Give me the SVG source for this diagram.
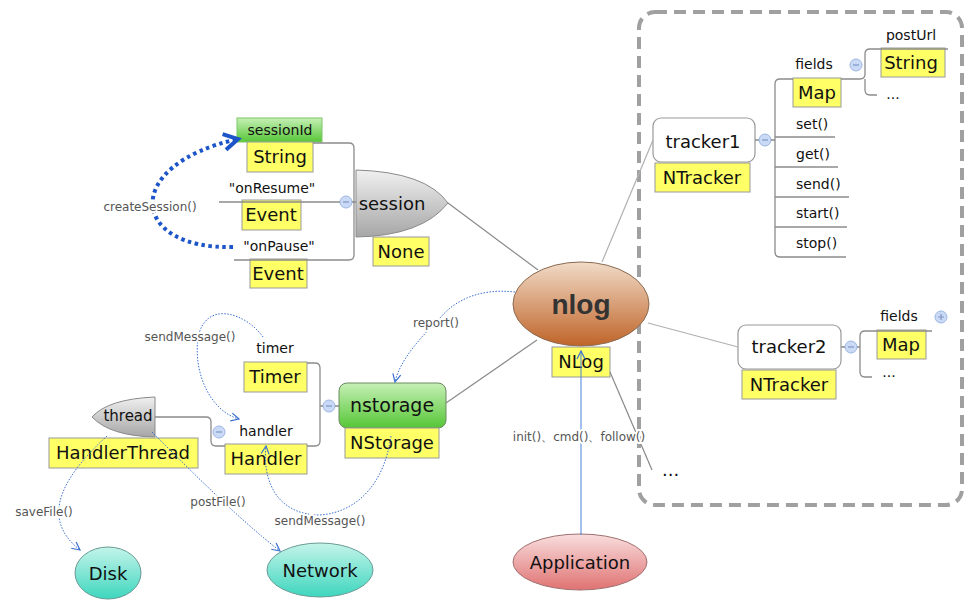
<svg xmlns="http://www.w3.org/2000/svg" width="978" height="602" viewBox="0 0 978 602">
<defs>
<linearGradient id="gNlog" x1="0" y1="0" x2="0" y2="1"><stop offset="0" stop-color="#f1dbc8"/><stop offset="1" stop-color="#bf6428"/></linearGradient>
<linearGradient id="gApp" x1="0" y1="0" x2="0" y2="1"><stop offset="0" stop-color="#f9dede"/><stop offset="1" stop-color="#e07272"/></linearGradient>
<linearGradient id="gTeal" x1="0" y1="0" x2="0" y2="1"><stop offset="0" stop-color="#c4f4ea"/><stop offset="1" stop-color="#3ed6be"/></linearGradient>
<linearGradient id="gGreen" x1="0" y1="0" x2="0" y2="1"><stop offset="0" stop-color="#c6f0b6"/><stop offset="1" stop-color="#56c636"/></linearGradient>
<linearGradient id="gGray" x1="0" y1="0" x2="0" y2="1"><stop offset="0" stop-color="#f0f0f0"/><stop offset="1" stop-color="#a6a6a6"/></linearGradient>
<marker id="arr" markerUnits="userSpaceOnUse" markerWidth="12" markerHeight="12" refX="9" refY="5" orient="auto" viewBox="0 0 12 10">
<path d="M1,1 L9,5 L1,9" fill="none" stroke="#3a70d0" stroke-width="1.2"/></marker>
<marker id="arrBig" markerUnits="userSpaceOnUse" markerWidth="24" markerHeight="24" refX="18" refY="10" orient="auto" viewBox="0 0 24 20">
<path d="M4,2 L18,10 L4,18" fill="none" stroke="#1c55c8" stroke-width="4"/></marker>
<style>
text{font-family:"DejaVu Sans","Liberation Sans",sans-serif;fill:#111}
.yb{fill:#ffff66;stroke:#999;stroke-width:1}
.yt{font-size:18px;text-anchor:middle}
.sm{font-size:14px;text-anchor:middle}
.lbl{font-size:12px;fill:#555;text-anchor:middle;stroke:#fff;stroke-width:4;paint-order:stroke;stroke-linejoin:round}
.br{fill:none;stroke:#8c8c8c;stroke-width:1.3}
.ln{fill:none;stroke:#8a8a8a;stroke-width:1.2}
.lnl{fill:none;stroke:#b0b0b0;stroke-width:1.2}
.dot{fill:none;stroke:#3a70d0;stroke-width:1;stroke-dasharray:1.5 1.5}
.col{fill:#c9d9f6;stroke:#9cb6e2;stroke-width:1}
.cm{stroke:#7f96c4;stroke-width:1.2}
</style>
</defs>
<rect width="978" height="602" fill="#fff"/>

<rect id="group-frame" x="639" y="12" width="323" height="493" rx="16" fill="none" stroke="#a0a0a0" stroke-width="4" stroke-dasharray="12 7"/>

<g id="nlog">
<ellipse cx="581" cy="304" rx="68" ry="42" fill="url(#gNlog)" stroke="#8a6a50" stroke-width="1"/>
<text x="581" y="314" text-anchor="middle" style="font-family:'Liberation Sans',Arial,sans-serif;font-weight:bold;font-size:28px;fill:#333">nlog</text>
<rect class="yb" x="552" y="347" width="58" height="30"/>
<text class="yt" x="581" y="368">NLog</text>
</g>

<g id="session">
<path d="M356 170 Q426 172 448 203 Q422 236 356 237 Z" fill="url(#gGray)" stroke="#8a8a8a" stroke-width="1"/>
<text x="392" y="210" style="font-size:18px;text-anchor:middle">session</text>
<rect class="yb" x="373" y="237" width="56" height="29"/>
<text class="yt" x="401" y="258">None</text>
<circle class="col" cx="346" cy="202" r="6"/><path class="cm" d="M343 202 L349 202"/>
</g>

<g id="sessionId">
<rect x="237" y="118" width="85" height="24" fill="url(#gGreen)" stroke="#7cc868" stroke-width="1"/>
<text x="280" y="135" style="font-size:14px;text-anchor:middle">sessionId</text>
<rect class="yb" x="247" y="142" width="66" height="30"/>
<text class="yt" x="280" y="163">String</text>
</g>

<g id="onResume">
<text class="sm" x="272" y="193">"onResume"</text>
<rect class="yb" x="242" y="200" width="59" height="30"/>
<text class="yt" x="271" y="221">Event</text>
</g>

<g id="onPause">
<text class="sm" x="279" y="251">"onPause"</text>
<rect class="yb" x="250" y="259" width="57" height="29"/>
<text class="yt" x="278" y="280">Event</text>
</g>

<g id="nstorage">
<rect x="339" y="383" width="107" height="45" rx="8" fill="url(#gGreen)" stroke="#6a8a60" stroke-width="1"/>
<text x="392" y="412" style="font-size:19px;text-anchor:middle">nstorage</text>
<rect class="yb" x="345" y="428" width="94" height="30"/>
<text class="yt" x="392" y="449">NStorage</text>
<circle class="col" cx="329" cy="406" r="6"/><path class="cm" d="M326 406 L332 406"/>
</g>

<g id="timer">
<text class="sm" x="275" y="353">timer</text>
<rect class="yb" x="244" y="362" width="63" height="30"/>
<text class="yt" x="275" y="383">Timer</text>
</g>

<g id="handler">
<text class="sm" x="266" y="436">handler</text>
<rect class="yb" x="225" y="444" width="82" height="30"/>
<text class="yt" x="266" y="465">Handler</text>
<circle class="col" cx="219" cy="432" r="6"/><path class="cm" d="M216 432 L222 432"/>
</g>

<g id="thread">
<path d="M155 397 Q108 399 92 417 Q110 436 155 437 Z" fill="url(#gGray)" stroke="#8a8a8a" stroke-width="1"/>
<text x="128" y="421" style="font-size:15px;text-anchor:middle">thread</text>
<rect class="yb" x="49" y="438" width="149" height="30"/>
<text class="yt" x="123" y="459">HandlerThread</text>
</g>

<g id="disk">
<ellipse cx="108" cy="573" rx="33" ry="26" fill="url(#gTeal)" stroke="#6a9a94" stroke-width="1"/>
<text class="yt" x="108" y="580">Disk</text>
</g>

<g id="network">
<ellipse cx="320" cy="570" rx="53" ry="27" fill="url(#gTeal)" stroke="#6a9a94" stroke-width="1"/>
<text class="yt" x="320" y="577">Network</text>
</g>

<g id="application">
<ellipse cx="580" cy="562" rx="67" ry="28" fill="url(#gApp)" stroke="#a07070" stroke-width="1"/>
<text class="yt" x="580" y="569">Application</text>
</g>

<g id="tracker1">
<rect x="653" y="118" width="102" height="44" rx="8" fill="#fff" stroke="#999" stroke-width="1.2"/>
<text x="703" y="148" style="font-size:18px;text-anchor:middle">tracker1</text>
<rect class="yb" x="655" y="163" width="95" height="29"/>
<text class="yt" x="702" y="184">NTracker</text>
<circle class="col" cx="765" cy="140" r="6"/><path class="cm" d="M762 140 L768 140"/>
</g>

<g id="t1-fields">
<text class="sm" x="814" y="69">fields</text>
<rect class="yb" x="793" y="78" width="48" height="29"/>
<text class="yt" x="817" y="99">Map</text>
<circle class="col" cx="856" cy="65" r="6"/><path class="cm" d="M853 65 L859 65"/>
</g>
<g id="t1-postUrl">
<text class="sm" x="911" y="40">postUrl</text>
<rect class="yb" x="881" y="48" width="64" height="29"/>
<text class="yt" x="911" y="69">String</text>
</g>
<g id="t1-more"><text class="sm" x="893" y="99">...</text></g>
<g id="t1-set"><text x="796" y="129" style="font-size:14px">set()</text></g>
<g id="t1-get"><text x="796" y="159" style="font-size:14px">get()</text></g>
<g id="t1-send"><text x="796" y="189" style="font-size:14px">send()</text></g>
<g id="t1-start"><text x="796" y="218" style="font-size:14px">start()</text></g>
<g id="t1-stop"><text x="796" y="248" style="font-size:14px">stop()</text></g>

<g id="tracker2">
<rect x="738" y="325" width="103" height="44" rx="8" fill="#fff" stroke="#999" stroke-width="1.2"/>
<text x="789" y="353" style="font-size:18px;text-anchor:middle">tracker2</text>
<rect class="yb" x="742" y="370" width="94" height="29"/>
<text class="yt" x="789" y="391">NTracker</text>
<circle class="col" cx="851" cy="347" r="6"/><path class="cm" d="M848 347 L854 347"/>
</g>
<g id="t2-fields">
<text class="sm" x="899" y="321">fields</text>
<rect class="yb" x="877" y="330" width="49" height="29"/>
<text class="yt" x="901" y="351">Map</text>
<circle class="col" cx="941" cy="317" r="6"/><path class="cm" d="M938 317 L944 317 M941 314 L941 320"/>
</g>
<g id="t2-more"><text class="sm" x="889" y="377">...</text></g>
<g id="more"><text x="662" y="476" style="font-size:18px">...</text></g>

<g id="connectors">
<path class="ln" d="M448 203 L538 270"/>
<path class="lnl" d="M602 262 L653 140"/>
<path class="lnl" d="M648 323 L738 347"/>
<path class="ln" d="M610 372 L652 470"/>
<path class="ln" d="M537 340 L446 403"/>
<path class="br" d="M313 143 L349 143 Q354 143 354 148 L354 255 Q354 260 349 260 L234 260"/>
<path class="br" d="M219 202 L340 202 M352 202 L356 202"/>
<path class="br" d="M307 363 L315 363 Q320 363 320 368 L320 441 Q320 446 315 446 L307 446"/>
<path class="br" d="M320 406 L323 406 M335 406 L339 406"/>
<path class="br" d="M155 417 L206 417 Q211 417 211 422 L211 441 Q211 446 216 446 L225 446"/>
<path class="br" d="M755 140 L759 140 M771 140 L775 140"/>
<path class="br" d="M793 79 L780 79 Q775 79 775 84 L775 252 Q775 257 780 257 L846 257"/>
<path class="br" d="M775 137 L835 137 M775 167 L838 167 M775 197 L849 197 M775 227 L847 227"/>
<path class="br" d="M841 79 L860 79 Q865 79 865 74 L865 54 Q865 49 870 49 L948 49"/>
<path class="br" d="M865 79 L865 90 Q865 95 870 95 L877 95"/>
<path class="br" d="M841 347 L845 347 M857 347 L860 347"/>
<path class="br" d="M932 331 L865 331 Q860 331 860 336 L860 372 Q860 377 865 377 L872 377"/>
<path d="M233 247 C130 250 120 165 238 139" fill="none" stroke="#1c55c8" stroke-width="4" stroke-dasharray="3.5 3.5" marker-end="url(#arrBig)"/>
<path class="dot" d="M263 337 C245 312 205 300 198 338 C193 375 212 412 239 419" marker-end="url(#arr)"/>
<path class="dot" d="M515 292 C480 288 455 300 440 318 C420 338 400 360 395 382" marker-end="url(#arr)"/>
<path class="dot" d="M391 436 C385 480 360 512 320 515 C278 515 262 482 266 446" marker-end="url(#arr)"/>
<path class="dot" d="M107 436 C70 470 35 515 80 550" marker-end="url(#arr)"/>
<path class="dot" d="M152 432 C195 475 240 520 280 551" marker-end="url(#arr)"/>
<path d="M581 535 L581 351" fill="none" stroke="#4a80d8" stroke-width="1" marker-end="url(#arr)"/>
<text class="lbl" x="150" y="211">createSession()</text>
<text class="lbl" x="190" y="341">sendMessage()</text>
<text class="lbl" x="436" y="327">report()</text>
<text class="lbl" x="320" y="525">sendMessage()</text>
<text class="lbl" x="44" y="516">saveFile()</text>
<text class="lbl" x="218" y="506">postFile()</text>
<text class="lbl" x="579" y="441">init()、cmd()、follow()</text>
</g>
</svg>
